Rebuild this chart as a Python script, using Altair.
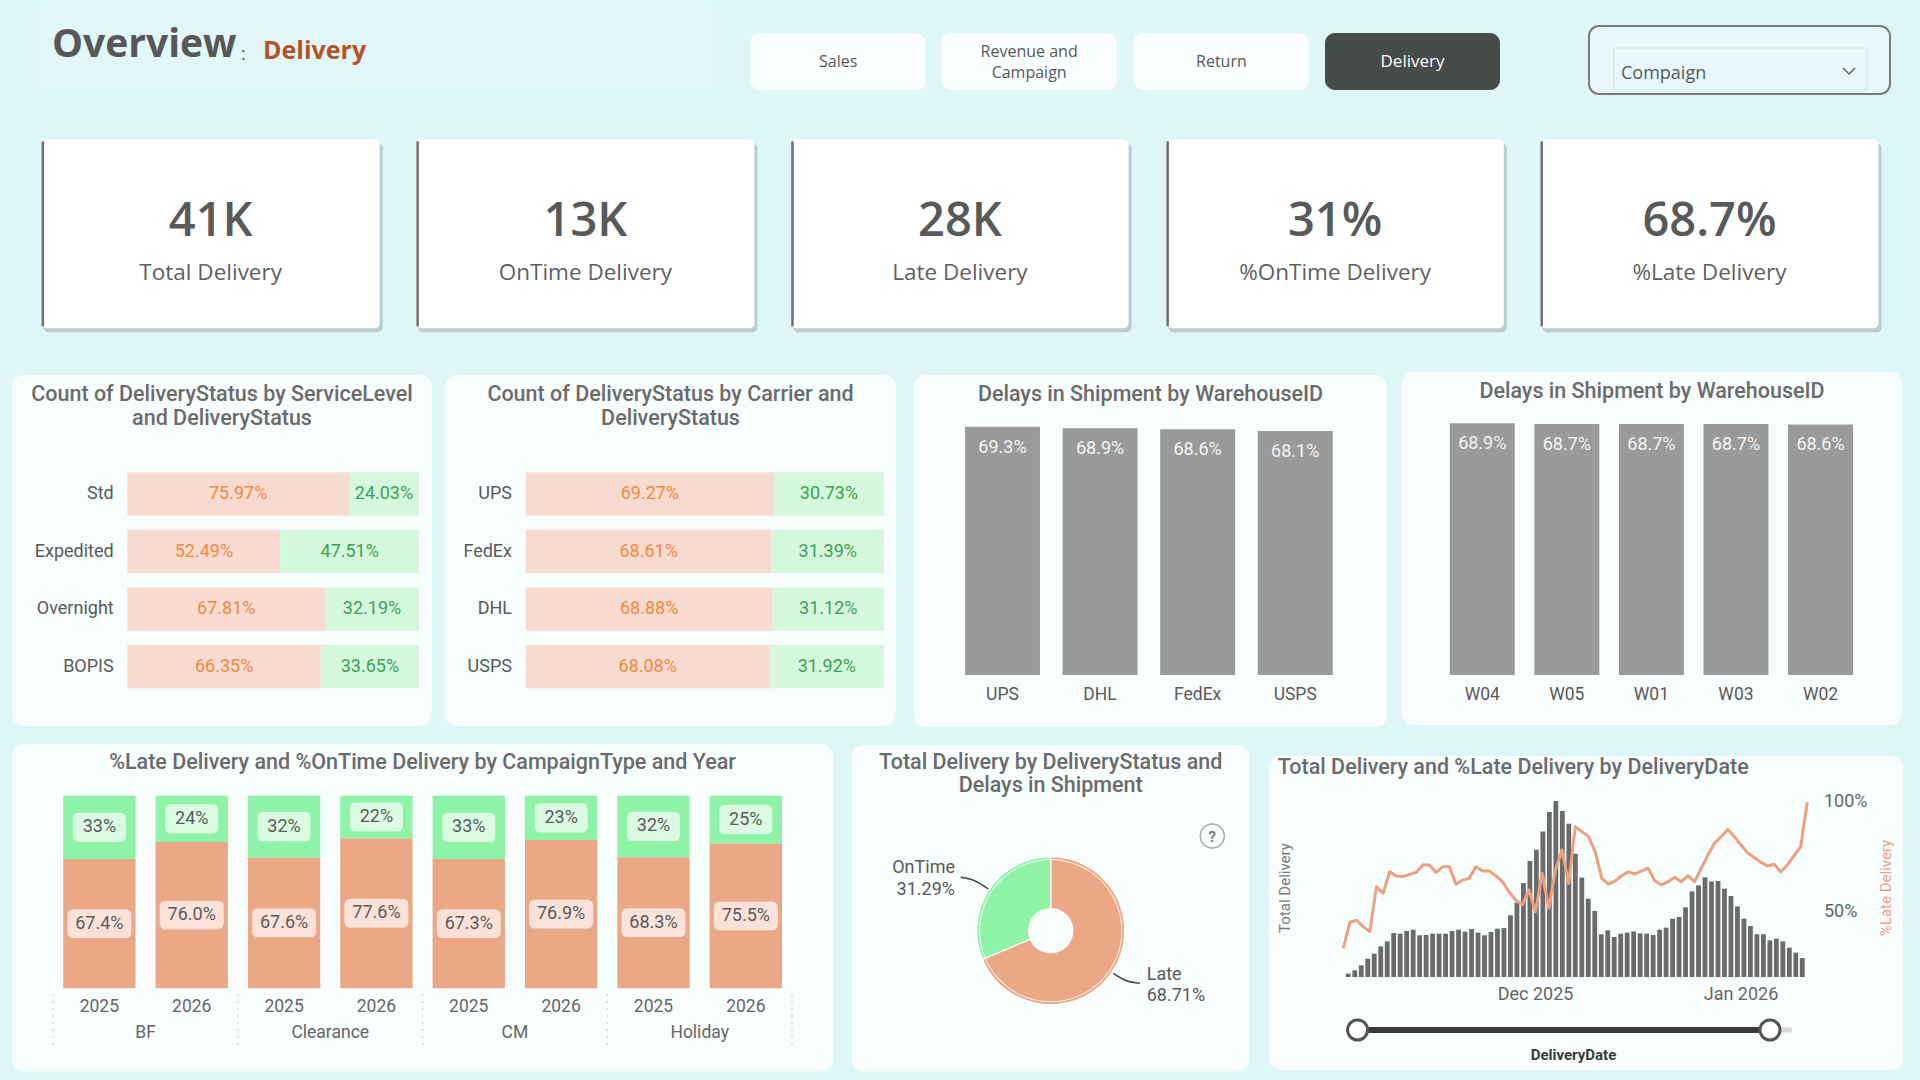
import altair as alt
import pandas as pd

# ---------------- data ----------------
kpi_values = ["41K", "13K", "28K", "31%", "68.7%"]
kpi_labels = ["Total Delivery", "OnTime Delivery", "Late Delivery", "%OnTime Delivery", "%Late Delivery"]

nav_buttons = ["Sales", "Revenue and\nCampaign", "Return", "Delivery"]

service_levels = ["Std", "Expedited", "Overnight", "BOPIS"]
service_late = [75.97, 52.49, 67.81, 66.35]
service_ontime = [24.03, 47.51, 32.19, 33.65]

carriers = ["UPS", "FedEx", "DHL", "USPS"]
carrier_late = [69.27, 68.61, 68.88, 68.08]
carrier_ontime = [30.73, 31.39, 31.12, 31.92]

delay_carriers = ["UPS", "DHL", "FedEx", "USPS"]
delay_carrier_pct = [69.3, 68.9, 68.6, 68.1]

warehouses = ["W04", "W05", "W01", "W03", "W02"]
warehouse_delay_pct = [68.9, 68.7, 68.7, 68.7, 68.6]

campaigns = ["BF", "Clearance", "CM", "Holiday"]
years = ["2025", "2026"]
campaign_late = [67.4, 76.0, 67.6, 77.6, 67.3, 76.9, 68.3, 75.5]
campaign_ontime = [33, 24, 32, 22, 33, 23, 32, 25]

status_names = ["Late", "OnTime"]
status_share = [68.71, 31.29]

delivery_dates = pd.date_range("2025-11-02", "2026-01-11", freq="D").strftime("%Y-%m-%d").tolist()
daily_total = [32, 64, 112, 176, 224, 294, 342, 422, 416, 442,
               454, 400, 403, 416, 416, 416, 442, 454, 435, 461,
               426, 400, 432, 464, 470, 592, 714, 902, 1114, 1222,
               1398, 1584, 1690, 1594, 1472, 1184, 954, 752, 634, 410,
               448, 384, 416, 426, 438, 419, 416, 403, 454, 474,
               560, 576, 669, 822, 880, 957, 918, 922, 848, 778,
               678, 560, 490, 410, 410, 352, 368, 342, 282, 234, 182]
daily_late_pct = [33.3, 45.2, 46.1, 43.2, 40.9, 61.4, 58.4, 68.2, 66.3, 66.0,
                  67.0, 67.9, 71.3, 71.3, 67.9, 70.5, 70.5, 62.5, 64.4, 65.2,
                  70.5, 68.6, 68.6, 66.4, 63.7, 59.1, 55.3, 53.1, 59.9, 50.0,
                  67.5, 51.5, 69.0, 78.1, 62.9, 88.8, 86.5, 84.2, 77.4, 65.2,
                  62.6, 64.0, 66.4, 68.2, 67.2, 68.6, 69.8, 64.0, 62.2, 63.7,
                  65.7, 63.7, 66.4, 63.7, 69.8, 75.8, 81.2, 84.2, 87.5, 84.2,
                  80.4, 76.9, 74.6, 72.5, 70.8, 71.6, 68.2, 71.3, 75.5, 79.6, 100.0]
month_ticks = ["2025-12-01", "2026-01-01"]
month_labels = ["Dec 2025", "Jan 2026"]

# ---------------- styling ----------------
BG = "#dff6f8"
PANEL = "#f8fdfe"
TXT = "#5a5a5a"
TITLE = "#6b6b6b"
LATE_LIGHT = "#f7dbd1"
ONTIME_LIGHT = "#d5f8dd"
LATE_TXT = "#f08a3c"
ONTIME_TXT = "#3f9f58"
SALMON = "#eaa887"
GREEN = "#8ef2a7"
BAR_GRAY = "#9a9a9a"
TS_BAR = "#6a6a6a"
LINE_ORANGE = "#eda07d"
DIN = "Roboto"
UI = "Open Sans"

NOAX = dict(scale=None, axis=None)


def px_rects(rows, **mark):
    df = pd.DataFrame(rows, columns=["x", "y", "x2", "y2"])
    return alt.Chart(df).mark_rect(**mark).encode(
        x=alt.X("x:Q", **NOAX), x2="x2:Q",
        y=alt.Y("y:Q", **NOAX), y2="y2:Q")


def px_text(rows, **mark):
    df = pd.DataFrame(rows, columns=["x", "y", "text"])
    return alt.Chart(df).mark_text(**mark).encode(
        x=alt.X("x:Q", **NOAX), y=alt.Y("y:Q", **NOAX), text="text:N")


def rrect_path(h, r):
    return (f"M{-1 + r},{-h} L{1 - r},{-h} Q1,{-h} 1,{-h + r} L1,{h - r} Q1,{h} {1 - r},{h} "
            f"L{-1 + r},{h} Q-1,{h} -1,{h - r} L-1,{-h + r} Q-1,{-h} {-1 + r},{-h} Z")


layers = []

# ---------------- header ----------------
layers.append(px_rects([(43, 5, 710, 88)], fill="#e2f7f9", cornerRadius=4))
layers.append(px_text([(52, 57, "Overview")], font=UI, fontSize=39, fontWeight="bold",
                      color="#585858", align="left", baseline="alphabetic"))
layers.append(px_text([(241, 60, ":")], font=UI, fontSize=18, color="#585858",
                      align="left", baseline="alphabetic"))
layers.append(px_text([(263, 59, "Delivery")], font=UI, fontSize=25, fontWeight="bold",
                      color="#b4532a", align="left", baseline="alphabetic"))

btn_x = [(750.6, 925.7), (941.6, 1116.7), (1133.8, 1309.0), (1325.0, 1500.0)]
layers.append(px_rects([(a, 33, b, 90) for a, b in btn_x[:3]], fill="#fbfefe", cornerRadius=10))
layers.append(px_rects([(btn_x[3][0], 33, btn_x[3][1], 90)], fill="#474b4a", cornerRadius=10))
btn_rows = []
for (a, b), label in zip(btn_x[:3], nav_buttons[:3]):
    parts = label.split("\n")
    if len(parts) == 1:
        btn_rows.append(((a + b) / 2, 61.5, parts[0]))
    else:
        btn_rows.append(((a + b) / 2, 51.5, parts[0]))
        btn_rows.append(((a + b) / 2, 72.5, parts[1]))
layers.append(px_text(btn_rows, font=UI, fontSize=16, color="#585858", baseline="middle"))
layers.append(px_text([((btn_x[3][0] + btn_x[3][1]) / 2, 62, nav_buttons[3])],
                      font=UI, fontSize=17, color="#ffffff", baseline="middle"))

# campaign slicer
layers.append(px_rects([(1589, 26, 1890, 94)], fill="#e6f8fa", stroke="#7a7a7a",
                       strokeWidth=2, cornerRadius=10))
layers.append(px_rects([(1614, 48, 1867, 90)], fill="#e6f8fa", stroke="#d3e6e8", strokeWidth=1))
layers.append(px_text([(1621, 74, "Compaign")], font=UI, fontSize=18, color="#585858",
                      align="left", baseline="middle"))
chev = pd.DataFrame({"x": [1843, 1849, 1855], "y": [68, 74, 68], "o": [0, 1, 2]})
layers.append(alt.Chart(chev).mark_line(color="#666666", strokeWidth=1.5).encode(
    x=alt.X("x:Q", **NOAX), y=alt.Y("y:Q", **NOAX), order="o:Q"))

# ---------------- KPI cards ----------------
card_x = [(41.6, 379.7), (416.4, 754.4), (791.2, 1128.6), (1166.4, 1503.8), (1540.5, 1878.5)]
CY0, CY1 = 139.3, 328.3
layers.append(px_rects([(a + 2, CY0 + 4, b + 3, CY1 + 4) for a, b in card_x],
                       fill="#9fb4b7", opacity=0.6, cornerRadius=5))
layers.append(px_rects([(a, CY0, b, CY1) for a, b in card_x], fill="#ffffff", cornerRadius=5))
layers.append(px_rects([(a, CY0 + 2, a + 2.5, CY1 - 2) for a, b in card_x], fill="#6f6f6f"))
layers.append(px_text([((a + b) / 2, 221.5, v) for (a, b), v in zip(card_x, kpi_values)],
                      font=UI, fontSize=47, fontWeight=600, color="#595959", baseline="middle"))
layers.append(px_text([((a + b) / 2, 272.5, t) for (a, b), t in zip(card_x, kpi_labels)],
                      font=UI, fontSize=22.5, color="#5f5f5f", baseline="middle"))

# ---------------- panel backgrounds ----------------
panels = [(12, 375, 432, 726), (445, 375, 896, 726), (914, 375, 1387, 727), (1402, 372, 1902, 725),
          (12, 744, 833, 1071.5), (852, 745, 1249, 1071.5), (1269, 756, 1903, 1070)]
layers.append(px_rects(panels, fill=PANEL, cornerRadius=12))

title_style = dict(font=DIN, fontSize=21.5, fontWeight=500, color=TITLE, baseline="middle")
layers.append(px_text([
    (222, 395, "Count of DeliveryStatus by ServiceLevel"),
    (222, 418.5, "and DeliveryStatus"),
    (670.5, 395, "Count of DeliveryStatus by Carrier and"),
    (670.5, 418.5, "DeliveryStatus"),
    (1150.5, 395, "Delays in Shipment by WarehouseID"),
    (1652, 391.7, "Delays in Shipment by WarehouseID"),
    (422.5, 763.3, "%Late Delivery and %OnTime Delivery by CampaignType and Year"),
    (1050.7, 763.3, "Total Delivery by DeliveryStatus and"),
    (1050.7, 786, "Delays in Shipment"),
], **title_style))
layers.append(px_text([(1277.7, 768.3, "Total Delivery and %Late Delivery by DeliveryDate")],
                      align="left", **title_style))


# ---------------- stacked horizontal bars (panels 1 & 2) ----------------
def stacked_rows(cats, late, ontime, x_range, label_x):
    rows = []
    for c, l, o in zip(cats, late, ontime):
        rows.append(dict(cat=c, status="Late", value=l, order=0))
        rows.append(dict(cat=c, status="OnTime", value=o, order=1))
    df = pd.DataFrame(rows)
    ys = alt.Scale(domain=cats, range=[465.2, 695.4], paddingInner=0.2465, paddingOuter=0.123)
    xs = alt.Scale(domain=[0, 100], range=x_range)
    base = alt.Chart(df).transform_stack(
        stack="value", groupby=["cat"], as_=["v0", "v1"], sort=[alt.SortField("order")]
    ).transform_calculate(mid="(datum.v0 + datum.v1) / 2",
                          label="format(datum.value, '.2f') + '%'")
    bars = base.mark_bar().encode(
        x=alt.X("v0:Q", scale=xs, axis=None), x2="v1:Q",
        y=alt.Y("cat:N", scale=ys, axis=None),
        color=alt.Color("status:N", scale=alt.Scale(domain=status_names, range=[LATE_LIGHT, ONTIME_LIGHT]),
                        legend=None))
    vals = base.mark_text(font=DIN, fontSize=18, baseline="middle").encode(
        x=alt.X("mid:Q", scale=xs, axis=None),
        y=alt.Y("cat:N", scale=ys, axis=None),
        text="label:N",
        color=alt.Color("status:N", scale=alt.Scale(domain=status_names, range=[LATE_TXT, ONTIME_TXT]),
                        legend=None))
    names = alt.Chart(pd.DataFrame({"cat": cats})).mark_text(
        font=DIN, fontSize=18, color=TXT, align="right", baseline="middle").encode(
        x=alt.value(label_x), y=alt.Y("cat:N", scale=ys, axis=None), text="cat:N")
    return [bars, vals, names]


layers += stacked_rows(service_levels, service_late, service_ontime, [127.4, 419.0], 113.7)
layers += stacked_rows(carriers, carrier_late, carrier_ontime, [525.8, 884.0], 512.0)


# ---------------- vertical gray bars (panels 3 & 4) ----------------
def delay_bars(cats, pct, x_range, pad, y_top100):
    df = pd.DataFrame({"cat": cats, "pct": pct})
    xs = alt.Scale(domain=cats, range=x_range, paddingInner=pad, paddingOuter=pad / 2)
    ys = alt.Scale(domain=[0, 100], range=[675, y_top100])
    bars = alt.Chart(df).mark_bar(color=BAR_GRAY).encode(
        x=alt.X("cat:N", scale=xs, axis=None), y=alt.Y("pct:Q", scale=ys, axis=None))
    vals = alt.Chart(df).transform_calculate(label="format(datum.pct, '.1f') + '%'").mark_text(
        font=DIN, fontSize=18, color="#f4f4f4", baseline="middle", dy=21).encode(
        x=alt.X("cat:N", scale=xs, axis=None), y=alt.Y("pct:Q", scale=ys, axis=None), text="label:N")
    names = alt.Chart(df).mark_text(font=DIN, fontSize=17.5, color=TXT, baseline="middle").encode(
        x=alt.X("cat:N", scale=xs, axis=None), y=alt.value(695), text="cat:N")
    return [bars, vals, names]


layers += delay_bars(delay_carriers, delay_carrier_pct, [953.7, 1344.0], 0.2316, 316.7)
layers += delay_bars(warehouses, warehouse_delay_pct, [1440.0, 1862.8], 0.2317, 309.7)

# ---------------- campaign 100% stacked columns (panel 5) ----------------
camp_rows = []
for i, (c, y) in enumerate([(c, y) for c in campaigns for y in years]):
    key = f"{c} {y}"
    camp_rows.append(dict(key=key, campaign=c, year=y, status="Late", value=campaign_late[i], order=0))
    camp_rows.append(dict(key=key, campaign=c, year=y, status="OnTime", value=campaign_ontime[i], order=1))
camp_df = pd.DataFrame(camp_rows)
keys = [f"{c} {y}" for c in campaigns for y in years]
xs5 = alt.Scale(domain=keys, range=[53.2, 792.0], paddingInner=0.2166, paddingOuter=0.1083)
ys5 = alt.Scale(domain=[0, 1], range=[988.3, 795.7])
camp_base = alt.Chart(camp_df).transform_stack(
    stack="value", groupby=["key"], as_=["v0", "v1"], offset="normalize", sort=[alt.SortField("order")]
).transform_calculate(
    mid="(datum.v0 + datum.v1) / 2",
    label="datum.status == 'Late' ? format(datum.value, '.1f') + '%' : format(datum.value, '.0f') + '%'")
layers.append(camp_base.mark_bar().encode(
    x=alt.X("key:N", scale=xs5, axis=None),
    y=alt.Y("v0:Q", scale=ys5, axis=None), y2="v1:Q",
    color=alt.Color("status:N", scale=alt.Scale(domain=status_names, range=[SALMON, GREEN]), legend=None)))
layers.append(camp_base.transform_filter("datum.status == 'Late'").mark_point(
    shape=rrect_path(0.45, 0.2), filled=True, size=64 * 64, color="#fbe5dd", opacity=0.95).encode(
    x=alt.X("key:N", scale=xs5, axis=None), y=alt.Y("mid:Q", scale=ys5, axis=None)))
layers.append(camp_base.transform_filter("datum.status == 'OnTime'").mark_point(
    shape=rrect_path(0.55, 0.22), filled=True, size=53 * 53, color="#defbe5", opacity=0.95).encode(
    x=alt.X("key:N", scale=xs5, axis=None), y=alt.Y("mid:Q", scale=ys5, axis=None)))
layers.append(camp_base.mark_text(font=DIN, fontSize=18, color=TXT, baseline="middle").encode(
    x=alt.X("key:N", scale=xs5, axis=None), y=alt.Y("mid:Q", scale=ys5, axis=None), text="label:N"))
year_df = pd.DataFrame({"key": keys, "year": [y for c in campaigns for y in years]})
layers.append(alt.Chart(year_df).mark_text(font=DIN, fontSize=17.5, color="#666666", baseline="middle").encode(
    x=alt.X("key:N", scale=xs5, axis=None), y=alt.value(1006.7), text="year:N"))
xs5g = alt.Scale(domain=campaigns, range=[53.2, 792.0], paddingInner=0, paddingOuter=0)
layers.append(alt.Chart(pd.DataFrame({"campaign": campaigns})).mark_text(
    font=DIN, fontSize=17.5, color="#666666", baseline="middle").encode(
    x=alt.X("campaign:N", scale=xs5g, axis=None), y=alt.value(1032.7), text="campaign:N"))
sep_df = pd.DataFrame({"b": list(range(len(campaigns) + 1))})
layers.append(alt.Chart(sep_df).mark_rule(color="#c9c9c9", strokeDash=[2, 5], strokeWidth=1).encode(
    x=alt.X("b:Q", scale=alt.Scale(domain=[0, len(campaigns)], range=[53.2, 792.0]), axis=None),
    y=alt.value(994), y2=alt.value(1047)))

# ---------------- donut (panel 6) ----------------
CX, CY = 1050.7, 930.7
donut_df = pd.DataFrame({"status": status_names, "share": status_share, "order": [0, 1]})
layers.append(alt.Chart(donut_df).mark_arc(innerRadius=22, outerRadius=74, stroke="#ffffff",
                                           strokeWidth=1.2).encode(
    theta=alt.Theta("share:Q", stack=True),
    order=alt.Order("order:Q"),
    color=alt.Color("status:N", scale=alt.Scale(domain=status_names, range=[SALMON, GREEN]), legend=None),
    x=alt.value(CX), y=alt.value(CY)))
layers.append(alt.Chart(pd.DataFrame({"a": [0]})).mark_arc(
    radius=71.6, radius2=70.6, theta=0, theta2=6.2832, color="#ffffff", opacity=0.85).encode(
    x=alt.value(CX), y=alt.value(CY)))
lead = pd.DataFrame({"id": ["o"] * 3 + ["l"] * 3,
                     "x": [960.7, 974.0, 988.3, 1113.3, 1126.0, 1140.0],
                     "y": [877.3, 880.5, 889.0, 973.3, 980.5, 983.3],
                     "o": [0, 1, 2, 0, 1, 2]})
layers.append(alt.Chart(lead).mark_line(color="#444444", strokeWidth=1.4, interpolate="monotone").encode(
    x=alt.X("x:Q", **NOAX), y=alt.Y("y:Q", **NOAX), detail="id:N", order="o:Q"))
layers.append(px_text([(955, 868, status_names[1]), (955, 890, f"{status_share[1]:.2f}%")],
                      font=DIN, fontSize=18, color=TXT, align="right", baseline="middle"))
layers.append(px_text([(1146.7, 975, status_names[0]), (1146.7, 996, f"{status_share[0]:.2f}%")],
                      font=DIN, fontSize=18, color=TXT, align="left", baseline="middle"))
layers.append(alt.Chart(pd.DataFrame({"a": [0]})).mark_point(
    shape="circle", size=576, filled=False, stroke="#8a8a8a", strokeWidth=1.6).encode(
    x=alt.value(1212.3), y=alt.value(836)))
layers.append(px_text([(1212.3, 836.5, "?")], font=DIN, fontSize=15, fontWeight="bold",
                      color="#7a7a7a", baseline="middle"))

# ---------------- daily combo chart (panel 7) ----------------
ts_df = pd.DataFrame({"date": delivery_dates, "total": daily_total, "late": daily_late_pct})
xs7 = alt.Scale(domain=[alt.DateTime(year=2025, month=11, date=2, utc=True),
                        alt.DateTime(year=2026, month=1, date=11, utc=True)],
                range=[1343.3, 1807.3])
ys7 = alt.Scale(domain=[0, 1690], range=[977, 801])
ys7r = alt.Scale(domain=[20, 100], range=[977.5, 802])
layers.append(alt.Chart(ts_df).mark_bar(width=4.8, color=TS_BAR).encode(
    x=alt.X("date:T", scale=xs7, axis=None), y=alt.Y("total:Q", scale=ys7, axis=None)))
layers.append(alt.Chart(ts_df).mark_line(color=LINE_ORANGE, strokeWidth=3, strokeJoin="round").encode(
    x=alt.X("date:T", scale=xs7, axis=None), y=alt.Y("late:Q", scale=ys7r, axis=None)))
layers.append(alt.Chart(pd.DataFrame({"v": [100, 50], "t": ["100%", "50%"]})).mark_text(
    font=DIN, fontSize=18, color="#666666", align="left", baseline="middle").encode(
    x=alt.value(1824), y=alt.Y("v:Q", scale=ys7r, axis=None), text="t:N"))
layers.append(alt.Chart(pd.DataFrame({"date": month_ticks, "t": month_labels})).mark_text(
    font=DIN, fontSize=18, color="#666666", baseline="middle").encode(
    x=alt.X("date:T", scale=xs7, axis=None), y=alt.value(995), text="t:N"))
layers.append(px_text([(1285, 888, "Total Delivery")], font=DIN, fontSize=15, color="#7a7a7a",
                      angle=270, baseline="middle"))
layers.append(px_text([(1886, 888, "%Late Delivery")], font=DIN, fontSize=15, color="#f0a07e",
                      angle=270, baseline="middle"))
# date slicer
layers.append(px_rects([(1770, 1027.5, 1792, 1032.5)], fill="#dadada", cornerRadius=2))
layers.append(px_rects([(1357.6, 1027, 1770, 1033)], fill="#3a3a3a"))
layers.append(alt.Chart(pd.DataFrame({"x": [1357.6, 1770.0]})).mark_point(
    shape="circle", size=400, filled=True, fill="#ffffff", stroke="#555555", strokeWidth=3, opacity=1).encode(
    x=alt.X("x:Q", **NOAX), y=alt.value(1030)))
layers.append(px_text([(1573.5, 1055, "DeliveryDate")], font=DIN, fontSize=15, fontWeight="bold",
                      color="#3a3a3a", baseline="middle"))

chart = alt.layer(*layers).resolve_scale(
    x="independent", y="independent", color="independent", theta="independent"
).properties(
    width=1920, height=1080, background=BG, padding=0,
    autosize=alt.AutoSizeParams(type="none")
).configure_view(stroke=None)

chart.save("out.html", embed_options={"renderer": "svg", "actions": False})
